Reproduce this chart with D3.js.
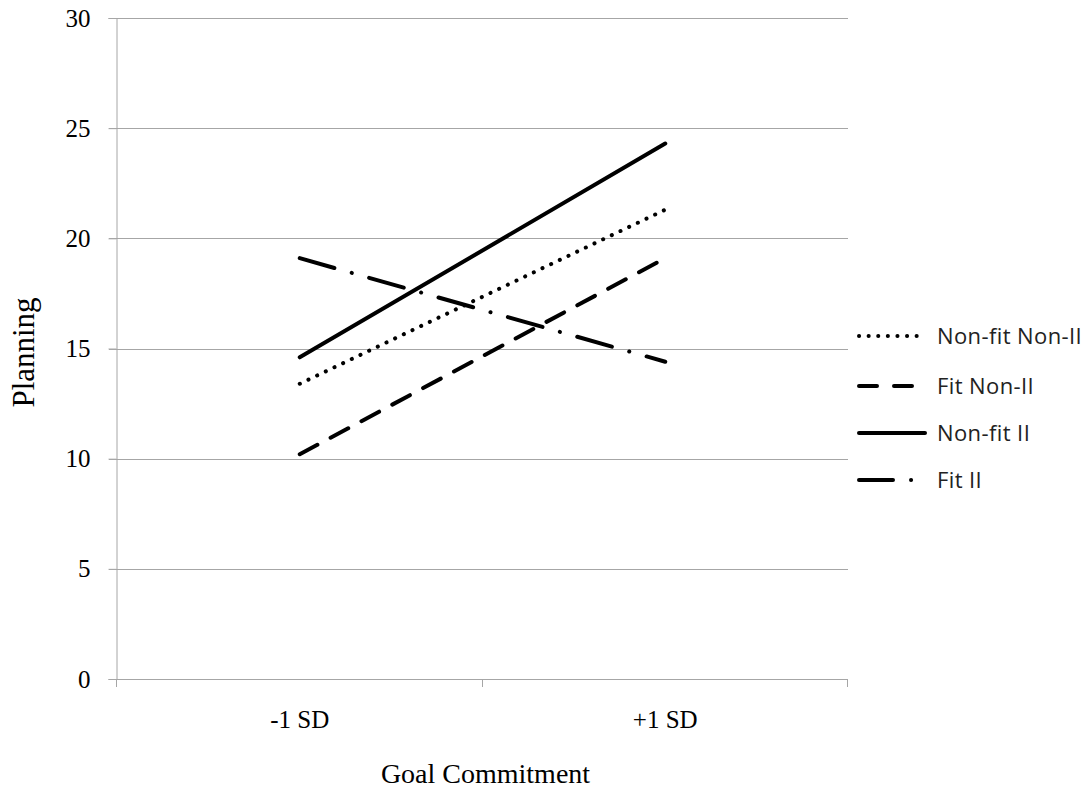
<!DOCTYPE html>
<html>
<head>
<meta charset="utf-8">
<script src="https://cdn.jsdelivr.net/npm/d3@7"></script>
<style>
  body { margin: 0; background: #fff; }
  svg { display: block; }
</style>
</head>
<body>
<div id="chart"></div>
<script>
const categories = ["-1 SD", "+1 SD"];
const seriesNames = ["Non-fit Non-II", "Fit Non-II", "Non-fit II", "Fit II"];
const nonFitNonII = [13.4, 21.3];
const fitNonII = [10.2, 19.1];
const nonFitII = [14.6, 24.3];
const fitII = [19.1, 14.4];
const yTicks = [0, 5, 10, 15, 20, 25, 30];

const series = [
    { name: seriesNames[0], values: nonFitNonII, dash: "0.1 9.5" },
    { name: seriesNames[1], values: fitNonII, dash: "20 15" },
    { name: seriesNames[2], values: nonFitII, dash: null },
    { name: seriesNames[3], values: fitII, dash: "36 18 0.1 18" }
];

const width = 1091, height = 791;
const margin = { top: 18, right: 243, bottom: 112, left: 117 };
const innerW = width - margin.left - margin.right;
const innerH = height - margin.top - margin.bottom;
const serif = "'Liberation Serif', 'Times New Roman', serif";

const svg = d3.select("#chart")
    .append("svg")
    .attr("width", width)
    .attr("height", height);

const g = svg.append("g")
    .attr("transform", `translate(${margin.left},${margin.top})`);

const x = d3.scaleBand()
    .domain(categories)
    .range([0, innerW]);

const y = d3.scaleLinear()
    .domain([0, 30])
    .range([innerH, 0]);

// gridlines
g.selectAll(".grid")
    .data(yTicks.filter(d => d > 0))
    .enter()
    .append("line")
    .attr("x1", -8)
    .attr("x2", innerW)
    .attr("y1", d => Math.round(y(d)) + 0.5)
    .attr("y2", d => Math.round(y(d)) + 0.5)
    .attr("stroke", "#a6a6a6")
    .attr("stroke-width", 1);

// y axis
const yAxis = g.append("g")
    .attr("transform", "translate(-0.5,0)")
    .call(d3.axisLeft(y).tickValues(yTicks).tickSize(8).tickPadding(18));
yAxis.select(".domain").attr("stroke", "#a6a6a6");
yAxis.selectAll(".tick line").attr("stroke", "#a6a6a6");
yAxis.selectAll(".tick text")
    .attr("fill", "#000")
    .style("font-family", serif)
    .style("font-size", "25px");

// x axis
const xAxis = g.append("g")
    .attr("transform", `translate(0,${Math.round(innerH) + 0.5})`)
    .call(d3.axisBottom(x).tickSize(0).tickPadding(31));
xAxis.select(".domain").attr("stroke", "#a6a6a6").attr("d", `M-8,0H${innerW}`);
xAxis.selectAll(".tick text")
    .attr("fill", "#000")
    .style("font-family", serif)
    .style("font-size", "25px");

// category boundary ticks
g.selectAll(".xtick")
    .data([0, 1, 2])
    .enter()
    .append("line")
    .attr("x1", d => Math.round(d * x.step()) - 0.5)
    .attr("x2", d => Math.round(d * x.step()) - 0.5)
    .attr("y1", innerH)
    .attr("y2", innerH + 8)
    .attr("stroke", "#a6a6a6");

// axis titles
svg.append("text")
    .attr("x", margin.left + innerW / 2 + 3)
    .attr("y", 783)
    .attr("text-anchor", "middle")
    .style("font-family", serif)
    .style("font-size", "28px")
    .text("Goal Commitment");

svg.append("text")
    .attr("transform", `translate(34,${margin.top + innerH / 2 + 4}) rotate(-90)`)
    .attr("text-anchor", "middle")
    .style("font-family", serif)
    .style("font-size", "31px")
    .text("Planning");

// lines
const line = d3.line()
    .x((d, i) => x(categories[i]) + x.bandwidth() / 2)
    .y(d => y(d));

g.selectAll(".series")
    .data(series)
    .enter()
    .append("path")
    .attr("d", d => line(d.values))
    .attr("fill", "none")
    .attr("stroke", "#000")
    .attr("stroke-width", 4)
    .attr("stroke-linecap", "round")
    .attr("stroke-dasharray", d => d.dash);

// legend
const legend = svg.append("g")
    .attr("transform", "translate(857,0)");
const legendY = [336, 386, 433, 480];

const items = legend.selectAll(".item")
    .data(series)
    .enter()
    .append("g")
    .attr("transform", (d, i) => `translate(0,${legendY[i]})`);

items.append("line")
    .attr("x1", 2)
    .attr("x2", 68)
    .attr("y1", 0)
    .attr("y2", 0)
    .attr("stroke", "#000")
    .attr("stroke-width", 4)
    .attr("stroke-linecap", "round")
    .attr("stroke-dasharray", (d, i) => i === 1 ? "18 17" : i === 3 ? "34 18 0.1 18" : d.dash);

items.append("text")
    .attr("x", 80)
    .attr("y", 0)
    .attr("dy", "0.35em")
    .style("font-family", "'Open Sans', 'Noto Sans', sans-serif")
    .style("font-size", "22px")
    .style("letter-spacing", "0.4px")
    .attr("fill", "#222")
    .text(d => d.name);
</script>
</body>
</html>
